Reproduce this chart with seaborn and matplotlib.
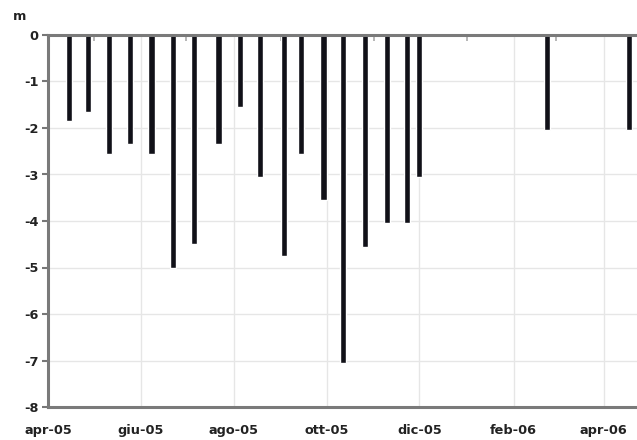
import matplotlib
matplotlib.use("Agg")
import matplotlib.pyplot as plt
import matplotlib.dates as mdates
import numpy as np
import pandas as pd
import seaborn as sns

# Survey dates and measured depth (m)
dates = [
    "2005-04-15", "2005-04-27", "2005-05-11", "2005-05-25", "2005-06-08",
    "2005-06-22", "2005-07-06", "2005-07-22", "2005-08-05", "2005-08-18",
    "2005-09-03", "2005-09-14", "2005-09-29", "2005-10-12", "2005-10-26",
    "2005-11-10", "2005-11-23", "2005-12-01", "2006-02-23", "2006-04-18",
]
depth = [
    -1.85, -1.65, -2.55, -2.35, -2.55,
    -5.0, -4.5, -2.35, -1.55, -3.05,
    -4.75, -2.55, -3.55, -7.05, -4.55,
    -4.05, -4.05, -3.05, -2.05, -2.05,
]
tick_dates = ["2005-04-01", "2005-06-01", "2005-08-01", "2005-10-01",
              "2005-12-01", "2006-02-01", "2006-04-01"]
tick_labels = ["apr-05", "giu-05", "ago-05", "ott-05", "dic-05", "feb-06", "apr-06"]
y_ticks = [0, -1, -2, -3, -4, -5, -6, -7, -8]

sns.set_style("white")
plt.rcParams["font.family"] = ["DejaVu Sans"]

df = pd.DataFrame({"x": mdates.date2num(pd.to_datetime(dates)), "y": depth})

fig = plt.figure(figsize=(6.37, 4.40), dpi=100)
ax = fig.add_axes([48 / 637, 1 - 407 / 440, 1 - 48 / 637, (407 - 35) / 440])

# bar width in days, scaled by the smallest gap between dates
gaps = np.diff(np.sort(df["x"].values))
bar_days = 4.0
sns.barplot(data=df, x="x", y="y", native_scale=True, color="#111118",
            width=bar_days / gaps.min(), saturation=1, ax=ax, zorder=3)

x0 = mdates.date2num(pd.Timestamp("2005-04-01"))
ax.set_xlim(x0, x0 + 387)
ax.set_ylim(-8, 0)

ax.set_xticks(mdates.date2num(pd.to_datetime(tick_dates)))
ax.set_xticklabels(tick_labels, fontsize=9.3, fontweight="bold", color="#222222")
months = pd.date_range("2005-05-01", "2006-04-01", freq="MS")
ax.set_xticks(mdates.date2num(months), minor=True)
ax.set_yticks(y_ticks)
ax.set_yticklabels([str(v) for v in y_ticks], fontsize=9.3, fontweight="bold",
                   color="#222222")
ax.set_xlabel("")
ax.set_ylabel("")

ax.grid(True, which="major", color="#e6e6e6", linewidth=1.0, zorder=0)
ax.tick_params(axis="x", which="major", length=0, pad=12)
ax.tick_params(axis="x", which="minor", top=True, bottom=False, direction="in",
               length=4, width=1.2, color="#aaaaaa")
ax.tick_params(axis="y", which="major", left=True, length=4, width=1.5,
               color="#777777", pad=3)

for side in ["left", "bottom", "top"]:
    ax.spines[side].set_visible(True)
    ax.spines[side].set_color("#7a7a7a")
    ax.spines[side].set_linewidth(2.2)
    ax.spines[side].set_zorder(4)
ax.spines["right"].set_visible(False)

fig.text(20 / 637, 1 - 17 / 440, "m", fontsize=9.3, fontweight="bold",
         color="#222222", ha="center", va="center")

fig.savefig("out.png", dpi=100)
